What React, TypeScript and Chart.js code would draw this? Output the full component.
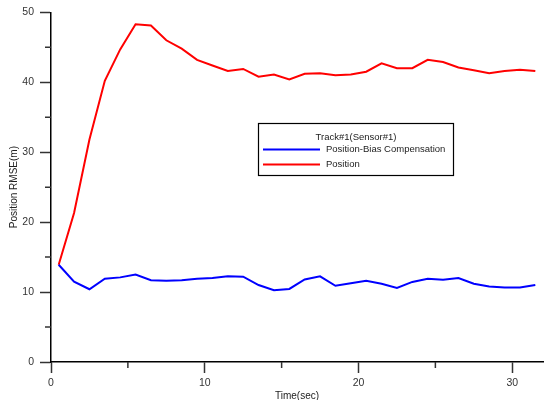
import React, { useEffect, useRef } from "react";
import { Chart, registerables } from "chart.js";

Chart.register(...registerables);

const timeSec = [
  0.5, 1.5, 2.5, 3.5, 4.5, 5.5, 6.5, 7.5, 8.5, 9.5, 10.5, 11.5, 12.5, 13.5, 14.5, 15.5,
  16.5, 17.5, 18.5, 19.5, 20.5, 21.5, 22.5, 23.5, 24.5, 25.5, 26.5, 27.5, 28.5, 29.5, 30.5, 31.5,
];

const biasCompRmse = [
  13.9, 11.5, 10.4, 11.9, 12.1, 12.5, 11.7, 11.6, 11.7, 11.9, 12.0, 12.25, 12.2, 11.0, 10.25, 10.45,
  11.8, 12.25, 10.9, 11.25, 11.6, 11.2, 10.6, 11.45, 11.9, 11.75, 12.0, 11.2, 10.8, 10.65, 10.65, 11.0,
];

const positionRmse = [
  13.9, 21.3, 31.8, 40.2, 44.7, 48.3, 48.1, 46.0, 44.8, 43.2, 42.4, 41.6, 41.9, 40.8, 41.1, 40.4,
  41.2, 41.3, 41.0, 41.1, 41.5, 42.7, 42.0, 42.0, 43.2, 42.9, 42.1, 41.7, 41.3, 41.6, 41.8, 41.6,
];

const seriesLabels = ["Position-Bias Compensation", "Position"];
const legendTitle = "Track#1(Sensor#1)";
const xTitle = "Time(sec)";
const yTitle = "Position RMSE(m)";
const xMinorTicks = [5, 15, 25];
const yMinorTicks = [5, 15, 25, 35, 45];

const FONT = '"Liberation Sans", Arial, sans-serif';
const TICK_COLOR = "#333";

const minorTickPlugin = {
  id: "minorTicks",
  afterDraw(chart: any) {
    const ctx = chart.ctx;
    const xs = chart.scales.x;
    const ys = chart.scales.y;
    ctx.save();
    ctx.strokeStyle = TICK_COLOR;
    ctx.lineWidth = 1.5;
    ctx.beginPath();
    xMinorTicks.forEach((v) => {
      const px = xs.getPixelForValue(v);
      ctx.moveTo(px, ys.bottom);
      ctx.lineTo(px, ys.bottom + 6);
    });
    yMinorTicks.forEach((v) => {
      const py = ys.getPixelForValue(v);
      ctx.moveTo(xs.left, py);
      ctx.lineTo(xs.left - 6, py);
    });
    ctx.stroke();
    ctx.restore();
  },
};

const boxLegendPlugin = {
  id: "boxLegend",
  afterDraw(chart: any) {
    const ctx = chart.ctx;
    const x0 = 258.5;
    const y0 = 123.5;
    const w = 195;
    const h = 52;
    ctx.save();
    ctx.fillStyle = "#fff";
    ctx.fillRect(x0, y0, w, h);
    ctx.strokeStyle = "#000";
    ctx.lineWidth = 1.2;
    ctx.strokeRect(x0, y0, w, h);
    ctx.font = `9.5px ${FONT}`;
    ctx.fillStyle = "#222";
    ctx.textBaseline = "middle";
    ctx.textAlign = "center";
    ctx.fillText(legendTitle, x0 + w / 2, 137.5);
    chart.data.datasets.forEach((ds: any, i: number) => {
      const y = 149.5 + i * 15;
      ctx.strokeStyle = ds.borderColor;
      ctx.lineWidth = 2;
      ctx.beginPath();
      ctx.moveTo(263, y);
      ctx.lineTo(320, y);
      ctx.stroke();
      ctx.textAlign = "left";
      ctx.fillStyle = "#222";
      ctx.fillText(ds.label, 326, y);
    });
    ctx.restore();
  },
};

export default function App() {
  const canvasRef = useRef<HTMLCanvasElement | null>(null);

  useEffect(() => {
    if (!canvasRef.current) return;
    Chart.defaults.font.family = FONT;
    const chart = new Chart(canvasRef.current, {
      type: "line",
      data: {
        datasets: [
          {
            label: seriesLabels[0],
            data: timeSec.map((t, i) => ({ x: t, y: biasCompRmse[i] })),
            borderColor: "#0000ff",
            backgroundColor: "#0000ff",
            borderWidth: 2,
            pointRadius: 0,
            tension: 0,
          },
          {
            label: seriesLabels[1],
            data: timeSec.map((t, i) => ({ x: t, y: positionRmse[i] })),
            borderColor: "#ff0000",
            backgroundColor: "#ff0000",
            borderWidth: 2,
            pointRadius: 0,
            tension: 0,
          },
        ],
      },
      options: {
        responsive: false,
        animation: false,
        devicePixelRatio: 1,
        layout: { padding: { top: 11, right: 1, left: 0, bottom: 0 } },
        plugins: {
          legend: { display: false },
          tooltip: { enabled: false },
        },
        scales: {
          x: {
            type: "linear",
            min: 0,
            max: 32,
            afterFit: (s: any) => {
              s.height = 38;
            },
            border: { display: true, color: "#000", width: 1.5 },
            grid: {
              drawOnChartArea: false,
              drawTicks: true,
              tickLength: 11,
              tickWidth: 1.5,
              tickColor: (c: any) => (c.tick && c.tick.value % 10 === 0 ? TICK_COLOR : "rgba(0,0,0,0)"),
            },
            ticks: {
              stepSize: 5,
              autoSkip: false,
              maxRotation: 0,
              padding: 4,
              color: TICK_COLOR,
              font: { size: 10.5 },
              callback: (v: any) => (Number(v) % 10 === 0 ? String(v) : ""),
            },
            title: {
              display: true,
              text: xTitle,
              color: "#222",
              font: { size: 10 },
              padding: { top: 0, bottom: -2 },
            },
          },
          y: {
            type: "linear",
            min: 0,
            max: 50,
            afterFit: (s: any) => {
              s.width = 51;
            },
            border: { display: true, color: "#000", width: 1.5 },
            grid: {
              drawOnChartArea: false,
              drawTicks: true,
              tickLength: 11,
              tickWidth: 1.5,
              tickColor: (c: any) => (c.tick && c.tick.value % 10 === 0 ? TICK_COLOR : "rgba(0,0,0,0)"),
            },
            ticks: {
              stepSize: 5,
              autoSkip: false,
              padding: 6,
              color: TICK_COLOR,
              font: { size: 10.5 },
              callback: (v: any) => (Number(v) % 10 === 0 ? String(v) : ""),
            },
            title: {
              display: true,
              text: yTitle,
              color: "#222",
              font: { size: 10 },
              padding: { top: 8, bottom: 0 },
            },
          },
        },
      } as any,
      plugins: [minorTickPlugin, boxLegendPlugin],
    });
    return () => chart.destroy();
  }, []);

  return (
    <div style={{ position: "fixed", left: 0, top: 0, width: 547, height: 400, background: "#fff" }}>
      <canvas ref={canvasRef} width={547} height={400} style={{ display: "block" }} />
    </div>
  );
}
